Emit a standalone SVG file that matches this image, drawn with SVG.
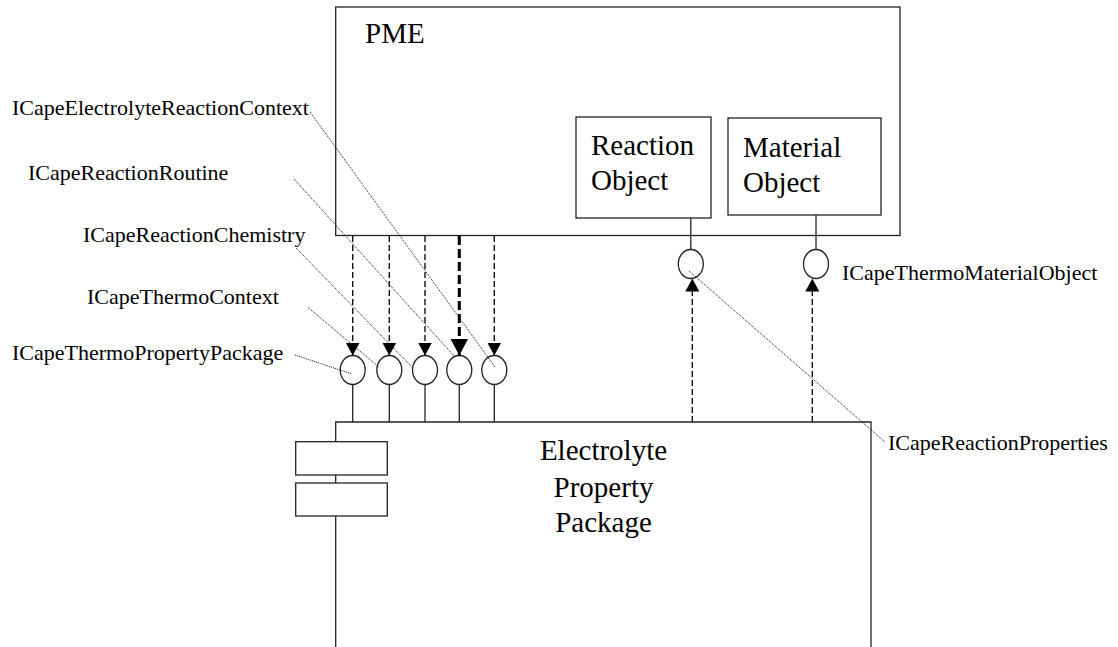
<svg xmlns="http://www.w3.org/2000/svg" width="1118" height="647" viewBox="0 0 1118 647">
<style>
.box{fill:#fff;stroke:#222;stroke-width:1.3}
.solid{stroke:#222;stroke-width:1.3;fill:none}
.dash{stroke:#111;stroke-width:1.4;stroke-dasharray:6 3;fill:none}
.dashb{stroke:#000;stroke-width:3;stroke-dasharray:9 4;fill:none}
.dot{stroke:#111;stroke-width:1;stroke-dasharray:1 1;fill:none}
.lbl{font-family:"Liberation Serif","Times New Roman",serif;font-size:22px;fill:#000}
.big{font-family:"Liberation Serif","Times New Roman",serif;font-size:29px;fill:#000}
.port{fill:#fff;stroke:#222;stroke-width:1.3}
</style>
<defs>
<marker id="ah" markerWidth="14" markerHeight="16" refX="13" refY="7" orient="auto" markerUnits="userSpaceOnUse"><path d="M0,0 L13,7 L0,14 z" fill="#000"/></marker>
<marker id="ahb" markerWidth="18" markerHeight="20" refX="17" refY="9" orient="auto" markerUnits="userSpaceOnUse"><path d="M0,0 L17,9 L0,18 z" fill="#000"/></marker>
</defs>
<g id="pme">
<rect class="box" x="335.7" y="7" width="564.3" height="228.5"/>
<text class="big" x="365" y="43">PME</text>
</g>
<g id="reaction-object">
<rect class="box" x="576" y="117" width="135" height="101"/>
<text class="big" x="591" y="155">Reaction</text>
<text class="big" x="591" y="190">Object</text>
</g>
<g id="material-object">
<rect class="box" x="728" y="118" width="153" height="97"/>
<text class="big" x="743" y="157">Material</text>
<text class="big" x="743" y="192">Object</text>
</g>
<g id="electrolyte-pp">
<path class="solid" d="M335.7,660 V422 H871 V660"/>
<rect class="box" x="295.7" y="441.7" width="91.6" height="33.3"/>
<rect class="box" x="295.7" y="483" width="91.6" height="33"/>
<text class="big" x="603.5" y="460" text-anchor="middle">Electrolyte</text>
<text class="big" x="603.5" y="497" text-anchor="middle">Property</text>
<text class="big" x="603.5" y="532" text-anchor="middle">Package</text>
</g>
<g id="ports">
<line class="solid" x1="352.7" y1="384.5" x2="352.7" y2="422"/>
<line class="solid" x1="389.3" y1="384.5" x2="389.3" y2="422"/>
<line class="solid" x1="425" y1="384.5" x2="425" y2="422"/>
<line class="solid" x1="459.3" y1="384.5" x2="459.3" y2="422"/>
<line class="solid" x1="494.3" y1="384.5" x2="494.3" y2="422"/>
<ellipse class="port" cx="352.7" cy="370" rx="12.5" ry="14.5"/>
<ellipse class="port" cx="389.3" cy="370" rx="12.5" ry="14.5"/>
<ellipse class="port" cx="425" cy="370" rx="12.5" ry="14.5"/>
<ellipse class="port" cx="459.3" cy="370" rx="12.5" ry="14.5"/>
<ellipse class="port" cx="494.3" cy="370" rx="12.5" ry="14.5"/>
<line class="solid" x1="690.8" y1="218" x2="690.8" y2="249.5"/>
<line class="solid" x1="816" y1="215" x2="816" y2="249.5"/>
<ellipse class="port" cx="690.8" cy="264" rx="12.5" ry="14.5"/>
<ellipse class="port" cx="816" cy="264" rx="12.5" ry="14.5"/>
</g>
<g id="connectors">
<line class="dash" x1="352.7" y1="236" x2="352.7" y2="355.5" marker-end="url(#ah)"/>
<line class="dash" x1="389.3" y1="236" x2="389.3" y2="355.5" marker-end="url(#ah)"/>
<line class="dash" x1="425" y1="236" x2="425" y2="355.5" marker-end="url(#ah)"/>
<line class="dashb" x1="459.3" y1="236" x2="459.3" y2="355.5" marker-end="url(#ahb)"/>
<line class="dash" x1="494.3" y1="236" x2="494.3" y2="355.5" marker-end="url(#ah)"/>
<line class="dash" x1="692.3" y1="422" x2="692.3" y2="278.5" marker-end="url(#ah)"/>
<line class="dash" x1="812.3" y1="422" x2="812.3" y2="278.5" marker-end="url(#ah)"/>
<line class="dot" x1="310" y1="112" x2="495" y2="367"/>
<line class="dot" x1="294" y1="179" x2="455" y2="357"/>
<line class="dot" x1="296" y1="248" x2="412" y2="367"/>
<line class="dot" x1="308" y1="307.5" x2="380" y2="368"/>
<line class="dot" x1="295" y1="355" x2="352" y2="374"/>
<line class="dot" x1="689" y1="271" x2="885" y2="442"/>
</g>
<g id="labels">
<text class="lbl" x="12" y="115">ICapeElectrolyteReactionContext</text>
<text class="lbl" x="28" y="180">ICapeReactionRoutine</text>
<text class="lbl" x="83" y="242">ICapeReactionChemistry</text>
<text class="lbl" x="87" y="304">ICapeThermoContext</text>
<text class="lbl" x="12" y="360">ICapeThermoPropertyPackage</text>
<text class="lbl" x="842" y="280">ICapeThermoMaterialObject</text>
<text class="lbl" x="888" y="450">ICapeReactionProperties</text>
</g>
</svg>
